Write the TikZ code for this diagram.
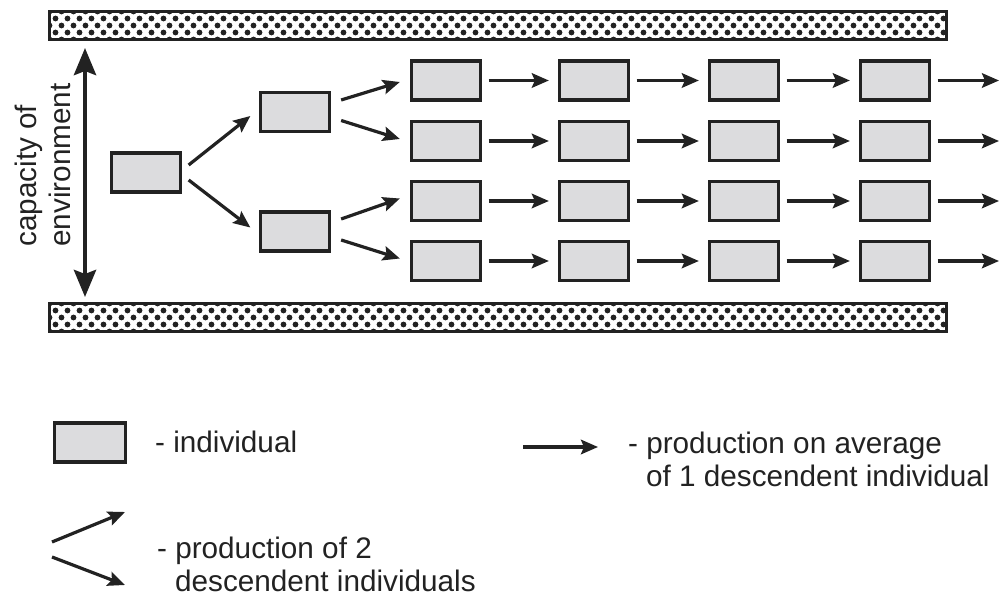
\documentclass[tikz,border=0pt]{standalone}
\usepackage{fontspec}
\setmainfont{Liberation Sans}
\usetikzlibrary{arrows.meta,calc}
\definecolor{ink}{HTML}{222222}
\definecolor{boxfill}{HTML}{DCDCDE}

\begin{document}
\begin{tikzpicture}[x=1pt,y=-1pt,
  indiv/.style={draw=ink, line width=3.3pt, fill=boxfill,
    minimum width=69pt, minimum height=39pt, inner sep=0pt},
  arr/.style={draw=ink, line width=3.2pt,
    -{Stealth[length=17pt,width=14.5pt,inset=3pt]}},
  bigarr/.style={draw=ink, line width=4.5pt,
    {Stealth[length=27pt,width=22pt,inset=4pt]}-{Stealth[length=27pt,width=22pt,inset=4pt]}},
  lbl/.style={text=ink, font=\fontsize{29.7pt}{33.5pt}\selectfont,
    inner sep=0pt, anchor=base west},
  vlbl/.style={lbl, rotate=90},
]
\useasboundingbox (0,0) rectangle (1002,596);

% dotted walls limiting the environment
\foreach \by in {11.5,303.5}{
  \begin{scope}
    \clip ({49.5},{\by}) rectangle ({946.5},{\by+28});
    \foreach \r in {0,...,4}{
      \pgfmathsetmacro\ox{mod(\r,2)*6}
      \foreach \k in {0,...,75}{
        \fill[ink] ({49.5+\ox+\k*12},{\by+\r*7}) circle[radius=2.9pt];
      }
    }
  \end{scope}
  \draw[ink, line width=3.3pt] ({49.5},{\by}) rectangle ({946.5},{\by+28});
}

% capacity of the environment
\coordinate (captop) at (85,48);
\coordinate (capbot) at (85,297);
\draw[bigarr] (captop) -- (capbot);
\node[vlbl] (cap1) at (36,247) {capacity of};
\node[vlbl] (cap2) at (70,247) {environment};

% individuals: founder and first generation
\node[indiv] (c0)  at (146,172.5) {};
\node[indiv] (c1a) at (295,112) {};
\node[indiv] (c1b) at (295,231.5) {};

% later generations
\foreach \c/\x in {2/446,3/594,4/744,5/895}{
  \foreach \r/\y in {1/80.5,2/141,3/201,4/261}{
    \node[indiv] (n\c\r) at (\x,\y) {};
  }
}

% two descendants each
\draw[arr] ($(c0.east)+(6.5,-7.5)$) -- ($(c1a.west)+(-8.5,4)$);
\draw[arr] ($(c0.east)+(6.5,7.5)$) -- ($(c1b.west)+(-8.5,-4)$);
\draw[arr] ($(c1a.east)+(10,-12)$) -- ($(n21.west)+(-10,1.5)$);
\draw[arr] ($(c1a.east)+(10,8.5)$) -- ($(n22.west)+(-10,-2)$);
\draw[arr] ($(c1b.east)+(10,-12.5)$) -- ($(n23.west)+(-10,-2.5)$);
\draw[arr] ($(c1b.east)+(10,8.5)$) -- ($(n24.west)+(-10,-2.5)$);

% one descendant each
\foreach \r/\y in {1/80.5,2/141,3/201,4/261}{
  \draw[arr] ($(n2\r.east)+(6.5,0)$) -- ($(n3\r.west)+(-9,0)$);
  \draw[arr] ($(n3\r.east)+(6.5,0)$) -- ($(n4\r.west)+(-9,0)$);
  \draw[arr] ($(n4\r.east)+(6.5,0)$) -- ($(n5\r.west)+(-9,0)$);
  \coordinate (end\r) at (999,\y);
  \draw[arr] ($(n5\r.east)+(6.5,0)$) -- (end\r);
}

% legend
\node[indiv, minimum width=71pt] (legbox) at (90,442.5) {};
\node[lbl] (legind) at (155,452) {- individual};

\coordinate (lA) at (52,542);
\coordinate (lB) at (125,512);
\coordinate (lC) at (52,557);
\coordinate (lD) at (125,585);
\draw[arr] (lA) -- (lB);
\draw[arr] (lC) -- (lD);
\node[lbl] (legtwo1) at (157,558) {- production of 2};
\node[lbl] (legtwo2) at (175,591.5) {descendent individuals};

\coordinate (lE) at (523,447);
\coordinate (lF) at (598,447);
\draw[arr] (lE) -- (lF);
\node[lbl] (legone1) at (628,453) {- production on average};
\node[lbl] (legone2) at (646,486.5) {of 1 descendent individual};
\end{tikzpicture}
\end{document}
